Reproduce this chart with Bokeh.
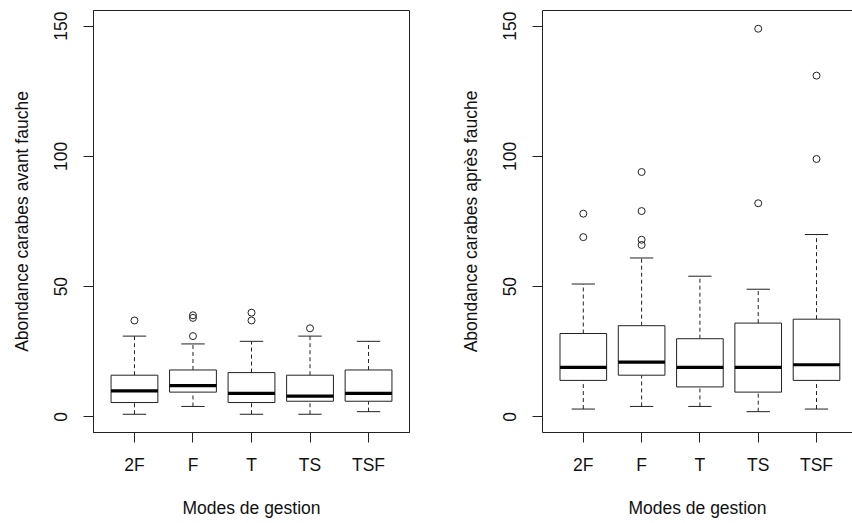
from bokeh.plotting import figure
from bokeh.models import FixedTicker, LinearAxis, Range1d
from bokeh.layouts import row
from bokeh.embed import file_html
from bokeh.resources import INLINE

categories = ["2F", "F", "T", "TS", "TSF"]
y_ticks = [0, 50, 100, 150]

# Abondance avant fauche
avant_q1 = [5.5, 9.5, 5.5, 6, 6]
avant_med = [10, 12, 9, 8, 9]
avant_q3 = [16, 18, 17, 16, 18]
avant_lo = [1, 4, 1, 1, 2]
avant_hi = [31, 28, 29, 31, 29]
avant_out = [[37], [39, 38, 31], [40, 37], [34], []]

# Abondance apres fauche
apres_q1 = [14, 16, 11.5, 9.5, 14]
apres_med = [19, 21, 19, 19, 20]
apres_q3 = [32, 35, 30, 36, 37.5]
apres_lo = [3, 4, 4, 2, 3]
apres_hi = [51, 61, 54, 49, 70]
apres_out = [[78, 69], [94, 79, 68, 66], [], [82, 149], [131, 99]]

FONT = "Liberation Sans"
FS = "17.5px"
TXT = "#111111"
LINE = "#222222"


def style_axis(ax):
    ax.major_tick_out = 10
    ax.major_tick_in = 0
    ax.minor_tick_out = 0
    ax.minor_tick_in = 0
    ax.major_tick_line_color = LINE
    ax.axis_line_color = LINE
    ax.major_label_text_font = FONT
    ax.major_label_text_font_size = FS
    ax.major_label_text_color = TXT
    ax.axis_label_text_font = FONT
    ax.axis_label_text_font_size = FS
    ax.axis_label_text_font_style = "normal"
    ax.axis_label_text_color = TXT


def panel(q1, med, q3, lo, hi, outs, ylabel, width, x_end, mbl, mbr, right_cut):
    p = figure(width=width, height=523, x_range=Range1d(0.3, x_end),
               y_range=Range1d(-6, 156), output_backend="svg",
               toolbar_location=None, min_border_left=mbl, min_border_top=10,
               min_border_bottom=91, min_border_right=mbr)
    p.grid.visible = False
    p.background_fill_color = "white"
    p.border_fill_color = "white"
    xs = list(range(1, len(categories) + 1))
    half = 0.4
    cap = 0.2
    # whiskers
    p.segment(x0=xs, x1=xs, y0=q3, y1=hi, line_color=LINE, line_width=1, line_dash="4 3")
    p.segment(x0=xs, x1=xs, y0=lo, y1=q1, line_color=LINE, line_width=1, line_dash="4 3")
    p.segment(x0=[x - cap for x in xs], x1=[x + cap for x in xs], y0=hi, y1=hi,
              line_color=LINE, line_width=1)
    p.segment(x0=[x - cap for x in xs], x1=[x + cap for x in xs], y0=lo, y1=lo,
              line_color=LINE, line_width=1)
    # boxes
    p.vbar(x=xs, width=2 * half, bottom=q1, top=q3, fill_color="white",
           line_color=LINE, line_width=1)
    p.segment(x0=[x - half for x in xs], x1=[x + half for x in xs], y0=med, y1=med,
              line_color="black", line_width=3.2)
    # outliers
    ox, oy = [], []
    for x, vals in zip(xs, outs):
        for v in vals:
            ox.append(x)
            oy.append(v)
    if ox:
        p.scatter(x=ox, y=oy, marker="circle", size=7, fill_color=None,
                  line_color=LINE, line_width=1)
    p.xaxis.ticker = FixedTicker(ticks=xs)
    p.xaxis.major_label_overrides = {x: c for x, c in zip(xs, categories)}
    p.yaxis.ticker = FixedTicker(ticks=y_ticks)
    p.yaxis.major_label_orientation = "vertical"
    p.xaxis.axis_label = "Modes de gestion"
    p.yaxis.axis_label = ylabel
    for ax in p.xaxis + p.yaxis:
        style_axis(ax)
    p.xaxis.major_label_standoff = 12
    p.xaxis.axis_label_standoff = 20
    p.yaxis.major_label_standoff = 16
    p.yaxis.axis_label_standoff = 20
    if right_cut:
        p.outline_line_color = None
        top = LinearAxis(ticker=FixedTicker(ticks=[]), major_label_text_font_size="0px",
                         axis_line_color=LINE, major_tick_out=0, major_tick_in=0,
                         minor_tick_out=0, minor_tick_in=0)
        p.add_layout(top, "above")
        p.min_border_top = 10
    else:
        p.outline_line_color = LINE
        p.outline_line_alpha = 1
    return p


p1 = panel(avant_q1, avant_med, avant_q3, avant_lo, avant_hi, avant_out,
           "Abondance carabes avant fauche", 457, 5.7, 93, 48, False)
p2 = panel(apres_q1, apres_med, apres_q3, apres_lo, apres_hi, apres_out,
           "Abondance carabes après fauche", 395, 0.3 + 310 / 58.3, 85, 0, True)

p = row(p1, p2)
open("out.html", "w").write(file_html(p, INLINE))
